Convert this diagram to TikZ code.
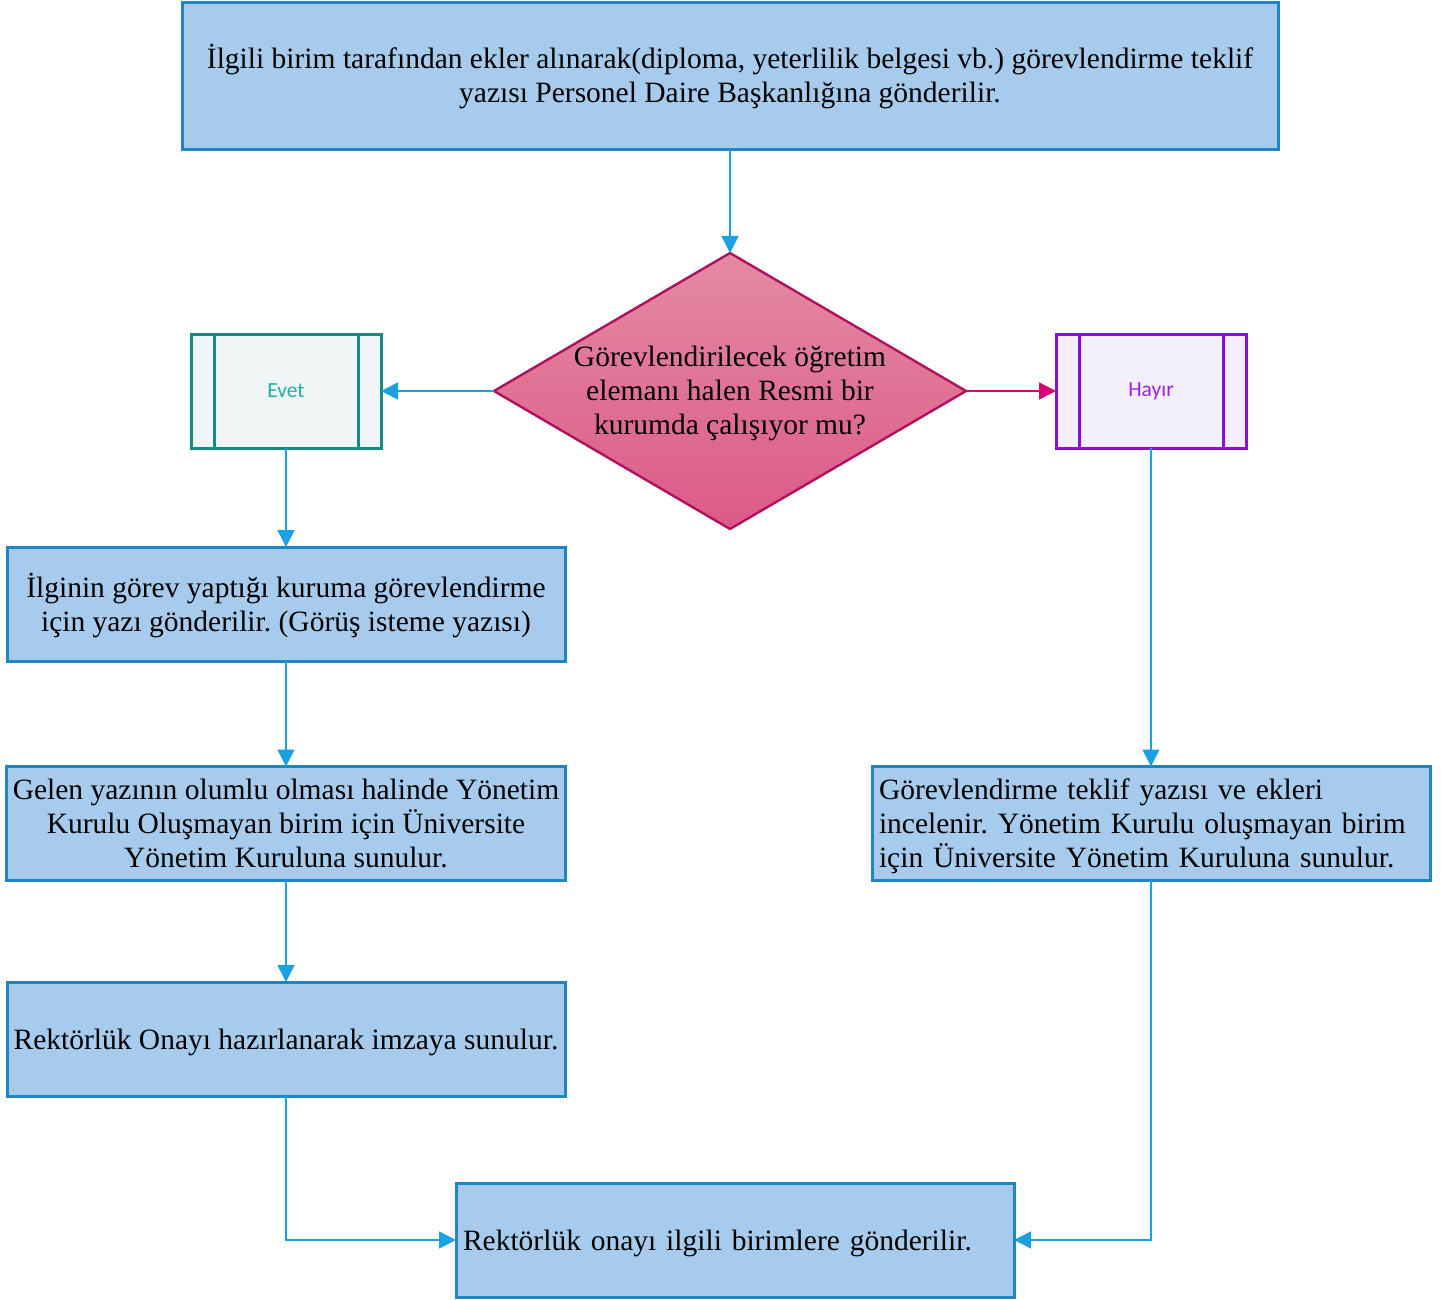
\documentclass[tikz,border=0pt]{standalone}
\usepackage{fontspec}
\setmainfont{Liberation Serif}
\newfontfamily\labelfont{Carlito}
\usetikzlibrary{arrows.meta,shapes.geometric}
\frenchspacing

\definecolor{boxfill}{HTML}{A6CBEC}
\definecolor{boxline}{HTML}{1F86C4}
\definecolor{flow}{HTML}{1BA1E2}
\definecolor{decline}{HTML}{B0105E}
\definecolor{dectop}{HTML}{E48AA3}
\definecolor{decbot}{HTML}{DC5A88}
\definecolor{yesline}{HTML}{138D84}
\definecolor{yesfill}{HTML}{F0F6F5}
\definecolor{yestext}{HTML}{1BAFA8}
\definecolor{noline}{HTML}{8A10D4}
\definecolor{nofill}{HTML}{F3EFFC}
\definecolor{notext}{HTML}{A020E8}
\definecolor{pinkflow}{HTML}{D80073}

% tall strut: lowers the text of a box slightly
\newcommand\lowstrut{\rule{0pt}{26.5pt}}

\tikzset{
  bodyfont/.style={font=\fontsize{29.5}{34}\selectfont},
  stepbox/.style={draw=boxline, fill=boxfill, line width=3pt, rectangle,
    inner sep=6pt, outer sep=0pt, minimum width=558pt, minimum height=114pt,
    bodyfont, align=center},
  branchbox/.style={rectangle, line width=3pt, inner sep=0pt, outer sep=0pt,
    minimum width=190pt, minimum height=114pt, font=\labelfont\fontsize{21.5}{24}\selectfont},
  flowline/.style={draw=flow, line width=1.6pt,
    -{Triangle[length=17pt,width=17pt]}},
}

\begin{document}
\begin{tikzpicture}[x=1pt,y=-1pt]
\useasboundingbox (0,0) rectangle (1446,1300);

% start box
\node[stepbox, minimum width=1096pt, minimum height=147pt] (start) at (730,76.5)
  {İlgili birim tarafından ekler alınarak(diploma, yeterlilik belgesi vb.) görevlendirme teklif\\
   yazısı Personel Daire Başkanlığına gönderilir.};

% decision
\node[diamond, minimum width=472pt, minimum height=276pt, inner sep=0pt, outer sep=0pt,
  draw=decline, line width=2.4pt, top color=dectop, bottom color=decbot] (dec) at (730,391) {};
\node[bodyfont, align=center] (dectext) at (730,393)
  {Görevlendirilecek öğretim\\ elemanı halen Resmi bir\\ kurumda çalışıyor mu?};

% yes / no branches
\node[branchbox, draw=yesline, fill=yesfill, text=yestext] (yes) at (286,391) {Evet};
\draw[yesline, line width=3pt] ([xshift=23pt]yes.north west) -- ([xshift=23pt]yes.south west)
  ([xshift=-23pt]yes.north east) -- ([xshift=-23pt]yes.south east);
\node[branchbox, draw=noline, fill=nofill, text=notext] (no) at (1151,391) {Hayır};
\draw[noline, line width=3pt] ([xshift=23pt]no.north west) -- ([xshift=23pt]no.south west)
  ([xshift=-23pt]no.north east) -- ([xshift=-23pt]no.south east);

% left column
\node[stepbox] (ask) at (286,604)
  {\lowstrut İlginin görev yaptığı kuruma görevlendirme\\ için yazı gönderilir. (Görüş isteme yazısı)};
\node[stepbox] (board) at (286,823.5)
  {Gelen yazının olumlu olması halinde Yönetim\\ Kurulu Oluşmayan birim için Üniversite\\ Yönetim Kuruluna sunulur.};
\node[stepbox] (sign) at (286,1039)
  {\lowstrut Rektörlük Onayı hazırlanarak imzaya sunulur.};

% right column
\node[stepbox, text width=544pt, align=left] (review) at (1151,823.5)
  {\lowstrut Görevlendirme teklif yazısı ve ekleri\\ incelenir. Yönetim Kurulu oluşmayan birim\\ için Üniversite Yönetim Kuruluna sunulur.};

% final box
\node[stepbox, text width=544pt, align=left] (send) at (735,1240)
  {\lowstrut Rektörlük onayı ilgili birimlere gönderilir.};

% connectors
\draw[flowline] (start.south) -- (dec.north);
\draw[flowline] (dec.west) -- (yes.east);
\draw[flowline, draw=pinkflow, fill=pinkflow] (dec.east) -- (no.west);
\draw[flowline] (yes.south) -- (ask.north);
\draw[flowline] (ask.south) -- (board.north);
\draw[flowline] (board.south) -- (sign.north);
\draw[flowline] (no.south) -- (review.north);
\draw[flowline] (sign.south) |- (send.west);
\draw[flowline] (review.south) |- (send.east);
\end{tikzpicture}
\end{document}
